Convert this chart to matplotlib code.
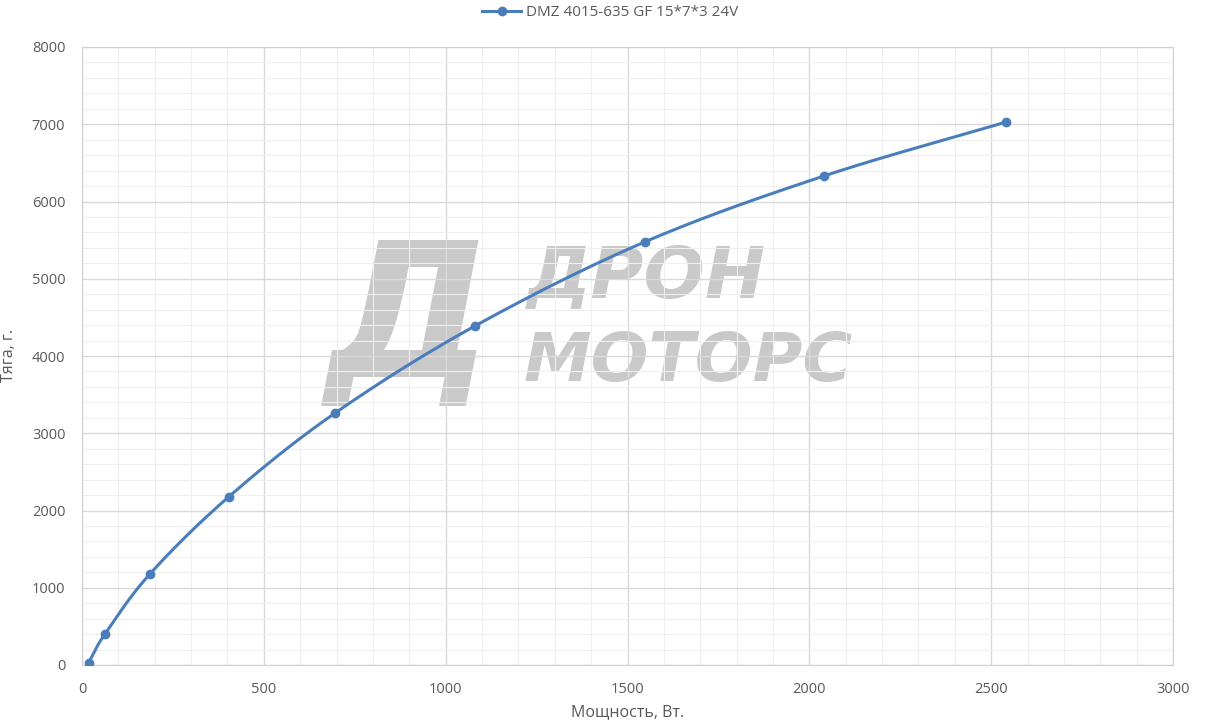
import numpy as np
import matplotlib.pyplot as plt
from matplotlib.ticker import MultipleLocator

# данные: мощность (Вт) и тяга (г)
power = [18, 63, 187, 403, 696, 1081, 1548, 2040, 2542]
thrust = [28, 400, 1180, 2175, 3262, 4390, 5478, 6330, 7030]
series_name = "DMZ 4015-635 GF 15*7*3 24V"

plt.rcParams['font.family'] = ['Open Sans', 'DejaVu Sans']


def smooth(x, y, n=30):
    # сглаживание линии как в Excel (Catmull-Rom)
    x = np.asarray(x, float)
    y = np.asarray(y, float)
    px = np.concatenate([[2 * x[0] - x[1]], x, [2 * x[-1] - x[-2]]])
    py = np.concatenate([[2 * y[0] - y[1]], y, [2 * y[-1] - y[-2]]])
    xs, ys = [], []
    t = np.linspace(0, 1, n)
    for i in range(1, len(px) - 2):
        for p, out in ((px, xs), (py, ys)):
            p0, p1, p2, p3 = p[i - 1], p[i], p[i + 1], p[i + 2]
            out.extend(0.5 * ((2 * p1) + (-p0 + p2) * t
                              + (2 * p0 - 5 * p1 + 4 * p2 - p3) * t ** 2
                              + (-p0 + 3 * p1 - 3 * p2 + p3) * t ** 3))
    return np.array(xs), np.array(ys)


fig = plt.figure(figsize=(12.2, 7.28), dpi=100)
ax = fig.add_axes([82 / 1220, 63 / 728, 1091 / 1220, 618 / 728])

color = '#4a7dbb'
sx, sy = smooth(power, thrust)
ax.plot(sx, sy, color=color, lw=2.2, zorder=3, solid_capstyle='round')
ax.plot(power, thrust, 'o', color=color, ms=6, zorder=4)

ax.set_xlim(0, 3000)
ax.set_ylim(0, 8000)
ax.xaxis.set_major_locator(MultipleLocator(500))
ax.xaxis.set_minor_locator(MultipleLocator(100))
ax.yaxis.set_major_locator(MultipleLocator(1000))
ax.yaxis.set_minor_locator(MultipleLocator(200))
ax.grid(which='major', color='#d9d9d9', lw=1.0, zorder=0)
ax.grid(which='minor', color='#efefef', lw=0.8, zorder=0)
for s in ax.spines.values():
    s.set_color('#d0d0d0')
ax.tick_params(which='both', length=0, labelsize=10.5, labelcolor='#595959')
ax.tick_params(axis='x', pad=12)
ax.tick_params(axis='y', pad=12)

ax.set_xlabel('Мощность, Вт.', fontsize=11.5, color='#595959')
ax.set_ylabel('Тяга, г.', fontsize=11.5, color='#595959')
ax.xaxis.set_label_coords(0.5, -(704 - 665) / 618)
ax.yaxis.set_label_coords(-(82 - 17) / 1091, 0.5)

# водяной знак
wm = '#c9c9c9'
ax.text(0.30, 0.55, 'Д', transform=ax.transAxes, fontsize=135, color=wm,
        fontweight='bold', style='italic', ha='center', va='center',
        family='DejaVu Sans', zorder=1)
ax.text(0.408, 0.625, 'ДРОН', transform=ax.transAxes, fontsize=52, color=wm,
        fontweight='bold', style='italic', ha='left', va='center',
        family='DejaVu Sans', zorder=1)
ax.text(0.405, 0.49, 'МОТОРС', transform=ax.transAxes, fontsize=49, color=wm,
        fontweight='bold', style='italic', ha='left', va='center',
        family='DejaVu Sans', zorder=1)

ax.plot([], [], '-o', color=color, lw=2.2, ms=6, label=series_name)
ax.legend(loc='center', bbox_to_anchor=(0.5, 1 - 13 / 728),
          bbox_transform=fig.transFigure, frameon=False,
          fontsize=11, labelcolor='#595959', handlelength=2.6, handletextpad=0.3)

fig.savefig('out.png', dpi=100)
